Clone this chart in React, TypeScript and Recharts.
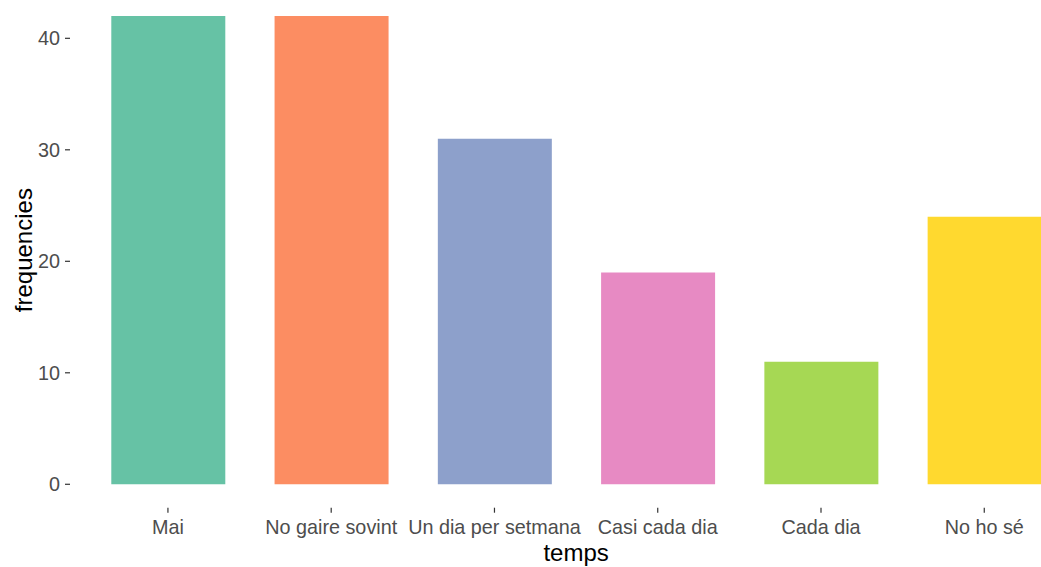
import { BarChart, Bar, XAxis, YAxis, Cell } from 'recharts';

// categories and counts
const categories = [
  'Mai',
  'No gaire sovint',
  'Un dia per setmana',
  'Casi cada dia',
  'Cada dia',
  'No ho sé',
];
const frequencies = [42, 42, 31, 19, 11, 24];
const yTicks = [0, 10, 20, 30, 40];

// Set2 palette
const colors = ['#66C2A5', '#FC8D62', '#8DA0CB', '#E78AC3', '#A6D854', '#FFD92F'];

const data = categories.map((temps, i) => ({ temps, frequencies: frequencies[i] }));

const FONT = '"Liberation Sans", Arial, sans-serif';

// titol eix X, centrat sota el panell
const XTitle = (props: any) => {
  const vb = props.viewBox;
  return (
    <text
      x={vb.x + vb.width / 2}
      y={vb.y + vb.height - 6.5}
      textAnchor="middle"
      fontFamily={FONT}
      fontSize={24}
      fill="#000"
    >
      temps
    </text>
  );
};

// titol eix Y, girat
const YTitle = (props: any) => {
  const vb = props.viewBox;
  const x = 32;
  const y = vb.y + vb.height / 2;
  return (
    <text
      x={x}
      y={y}
      transform={`rotate(-90 ${x} ${y})`}
      textAnchor="middle"
      fontFamily={FONT}
      fontSize={24}
      fill="#000"
    >
      frequencies
    </text>
  );
};

export default function App() {
  return (
    <div
      style={{
        position: 'absolute',
        left: 0,
        top: 0,
        width: 1041,
        height: 567,
        overflow: 'hidden',
        background: '#fff',
      }}
    >
      <div style={{ position: 'absolute', left: 0, top: -30 }}>
        <BarChart
          width={1100}
          height={597}
          data={data}
          margin={{ top: 22.6, right: 17.8, left: 0, bottom: 0 }}
          barSize={114}
        >
          <XAxis
            dataKey="temps"
            height={59.3}
            padding={{ left: 16.3, right: 16.3 }}
            axisLine={false}
            tickLine={{ stroke: '#333333', strokeWidth: 1.2 }}
            tickSize={5}
            tickMargin={7}
            tick={{ fill: '#4D4D4D', fontSize: 19.8, fontFamily: FONT }}
            interval={0}
            label={<XTitle />}
          />
          <YAxis
            width={70}
            type="number"
            domain={[-2.1, 44.1]}
            ticks={yTicks}
            allowDataOverflow
            axisLine={false}
            tickLine={{ stroke: '#333333', strokeWidth: 1.2 }}
            tickSize={5}
            tickMargin={5}
            tick={{ fill: '#4D4D4D', fontSize: 19.8, fontFamily: FONT }}
            label={<YTitle />}
          />
          <Bar dataKey="frequencies" isAnimationActive={false}>
            {data.map((d, i) => (
              <Cell key={d.temps} fill={colors[i % colors.length]} />
            ))}
          </Bar>
        </BarChart>
      </div>
    </div>
  );
}
